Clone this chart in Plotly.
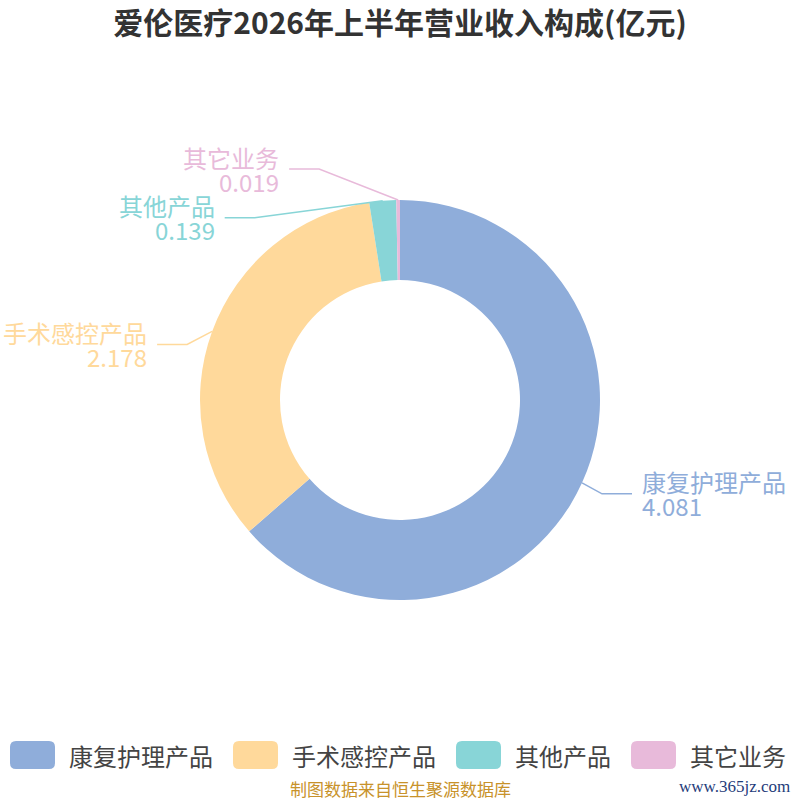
import math
import plotly.graph_objects as go

# data
categories = ["康复护理产品", "手术感控产品", "其他产品", "其它业务"]
values = [4.081, 2.178, 0.139, 0.019]
colors = ["#8FADDA", "#FFD99B", "#88D5D7", "#E8BADA"]

title = "爱伦医疗2026年上半年营业收入构成(亿元)"
source = "制图数据来自恒生聚源数据库"
watermark = "www.365jz.com"

W = H = 800
CX, CY, R = 400, 400, 200
FONT = "Noto Sans CJK SC"

# leader line bend offsets (px) per slice
bend = [(20, 11), (-25, 13), (-128, 17), (-79, -31)]
seg2 = 30


def px(x):
    return x / W


def py(y):
    return 1 - y / H


fig = go.Figure(go.Pie(
    labels=categories, values=values, sort=False, direction="clockwise",
    hole=0.6, marker=dict(colors=colors, line=dict(width=0)),
    textinfo="none", hoverinfo="label+value",
    domain=dict(x=[0.25, 0.75], y=[0.25, 0.75]), showlegend=False,
))

shapes = []
annotations = []
total = sum(values)
cum = 0
for name, v, c, (bx, by) in zip(categories, values, colors, bend):
    mid = (cum + v / 2) / total * 2 * math.pi
    cum += v
    ex = CX + R * math.sin(mid)
    ey = CY - R * math.cos(mid)
    mx, my = ex + bx, ey + by
    side = 1 if bx > 0 else -1
    endx = mx + side * seg2
    shapes.append(dict(type="path", xref="paper", yref="paper",
                       path=f"M{px(ex)},{py(ey)} L{px(mx)},{py(my)} L{px(endx)},{py(my)}",
                       line=dict(color=c, width=1.5)))
    anchor = "left" if side > 0 else "right"
    for txt, dy in ((name, -12), (f"{v:.3f}", 12)):
        annotations.append(dict(x=px(endx + side * 9), y=py(my + dy), xref="paper", yref="paper",
                                text=txt, showarrow=False, xanchor=anchor, yanchor="middle",
                                borderpad=0, font=dict(family=FONT, size=24, color=c)))

# legend drawn by hand with rounded swatches
lx = 10
ly = 755
sw, sh, rr = 45, 28, 6
for name, c in zip(categories, colors):
    x0, x1 = lx, lx + sw
    y0, y1 = ly - sh / 2, ly + sh / 2
    path = (f"M{px(x0 + rr)},{py(y0)} L{px(x1 - rr)},{py(y0)} Q{px(x1)},{py(y0)} {px(x1)},{py(y0 + rr)} "
            f"L{px(x1)},{py(y1 - rr)} Q{px(x1)},{py(y1)} {px(x1 - rr)},{py(y1)} "
            f"L{px(x0 + rr)},{py(y1)} Q{px(x0)},{py(y1)} {px(x0)},{py(y1 - rr)} "
            f"L{px(x0)},{py(y0 + rr)} Q{px(x0)},{py(y0)} {px(x0 + rr)},{py(y0)} Z")
    shapes.append(dict(type="path", xref="paper", yref="paper", path=path,
                       fillcolor=c, line=dict(width=0)))
    tx = x1 + 12
    annotations.append(dict(x=px(tx), y=py(ly), xref="paper", yref="paper", text=name,
                            showarrow=False, xanchor="left", yanchor="middle",
                            font=dict(family=FONT, size=24, color="#444444")))
    lx = tx + len(name) * 24 + 22

annotations.append(dict(x=0.5, y=py(788), xref="paper", yref="paper", text=source,
                        showarrow=False, xanchor="center", yanchor="middle",
                        font=dict(family=FONT, size=17, color="#C8922A")))
annotations.append(dict(x=px(792), y=py(786), xref="paper", yref="paper", text=watermark,
                        showarrow=False, xanchor="right", yanchor="middle",
                        font=dict(family="Liberation Serif", size=17, color="#1F3C7A")))

fig.update_layout(
    width=W, height=H, margin=dict(l=0, r=0, t=0, b=0),
    paper_bgcolor="white", plot_bgcolor="white",
    title=dict(text=f"<b>{title}</b>", x=0.5, xanchor="center", y=py(23), yanchor="middle",
               font=dict(family=FONT, size=30, color="#333333")),
    shapes=shapes, annotations=annotations,
)

fig.write_html("out.html", config={"displayModeBar": False},
               post_script="document.body.style.margin='0';")
